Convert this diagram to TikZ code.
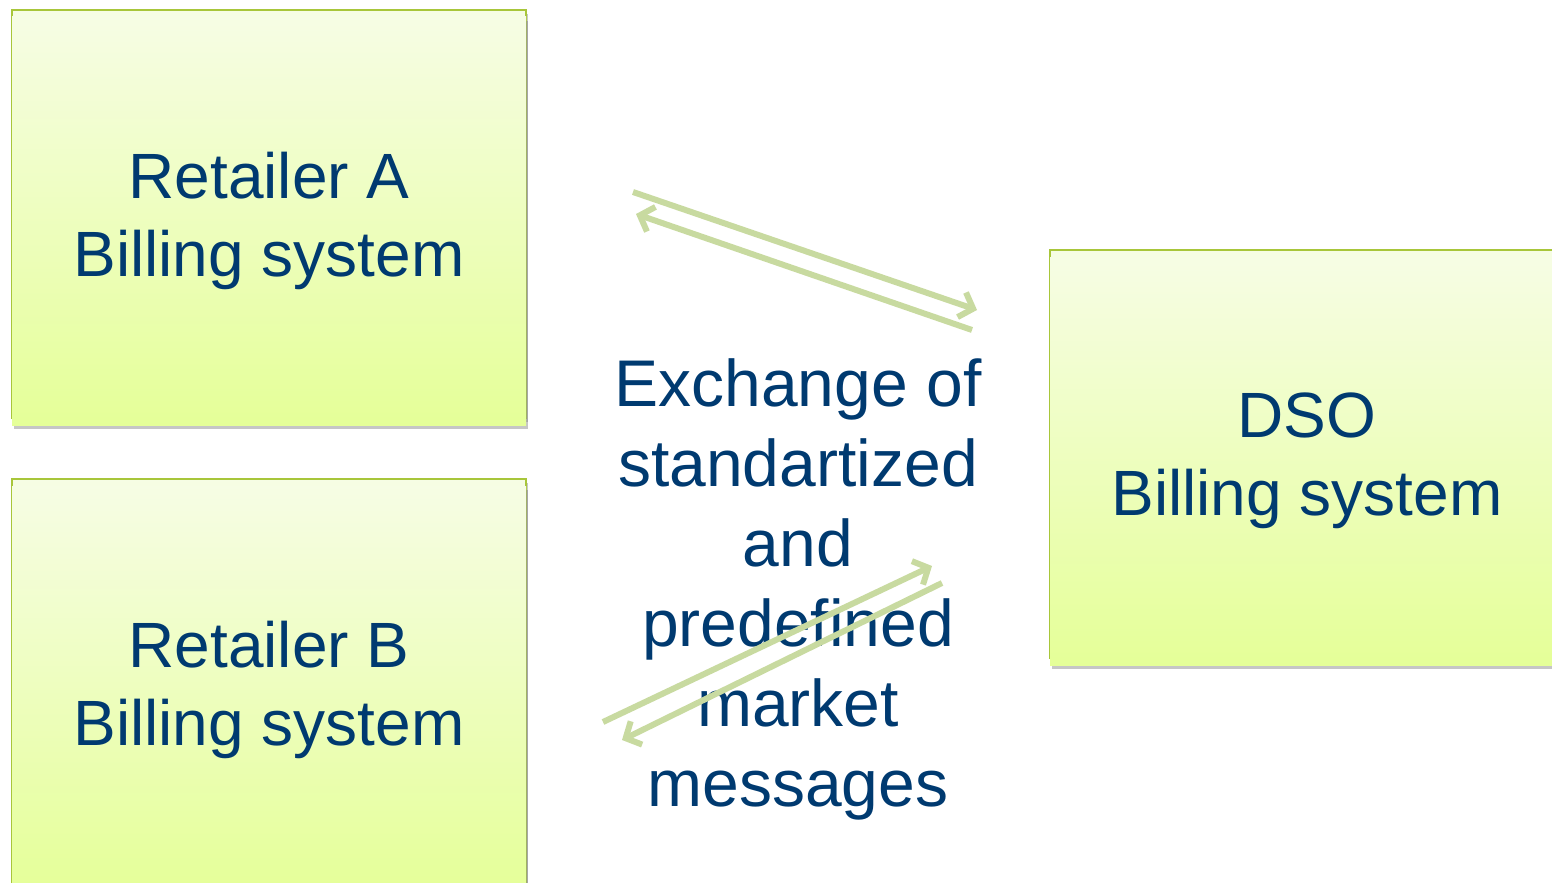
\documentclass[tikz,border=0pt]{standalone}
\usepackage{fontspec}
\setmainfont{Liberation Sans}
\usetikzlibrary{arrows.meta,shadows}
\definecolor{boxtop}{RGB}{246,253,228}
\definecolor{boxbottom}{RGB}{229,255,152}
\definecolor{boxline}{RGB}{168,198,58}
\definecolor{textblue}{RGB}{0,58,112}
\definecolor{flowgreen}{RGB}{200,218,160}
\tikzset{boxtext/.style={align=center,text=textblue,font=\fontsize{32}{39}\selectfont,yshift=-3.5pt}}
\begin{document}
\begin{tikzpicture}[x=0.5pt,y=-0.5pt]
        \useasboundingbox (0,0) rectangle (1552,883);
        \begin{scope}[every node/.style={rectangle,draw=boxline,line width=1pt,
                top color=boxtop,bottom color=boxbottom,
                minimum width=257pt,minimum height=204pt,inner sep=0pt,
                drop shadow={shadow xshift=1pt,shadow yshift=-2pt,opacity=0.45}}]
            \node[label={[boxtext]center:Retailer A\\Billing system}] (retA) at (269,214) {};
            \node[label={[boxtext]center:Retailer B\\Billing system}] (retB) at (269,683) {};
            \node[label={[boxtext]center:DSO\\Billing system}] (dso) at (1307,454) {};
        \end{scope}
        \node[align=center,text=textblue,font=\fontsize{33}{40}\selectfont] (msg) at (798,589)
            {Exchange of\\standartized\\and\\predefined\\market\\messages};
        % message flows
        \coordinate (a1) at (633,192);
        \coordinate (a2) at (977,310);
        \coordinate (a3) at (972,330);
        \coordinate (a4) at (636,214);
        \coordinate (b1) at (603,722);
        \coordinate (b2) at (932,566);
        \coordinate (b3) at (942,583);
        \coordinate (b4) at (622,740);
        \begin{scope}[every edge/.style={draw=flowgreen,line width=3pt,
                -{Straight Barb[length=6pt,width=13pt]}}]
            \path
                (a1) edge (a2)
                (a3) edge (a4);
            \path
                (b1) edge (b2)
                (b3) edge (b4);
        \end{scope}
    \end{tikzpicture}
\end{document}
